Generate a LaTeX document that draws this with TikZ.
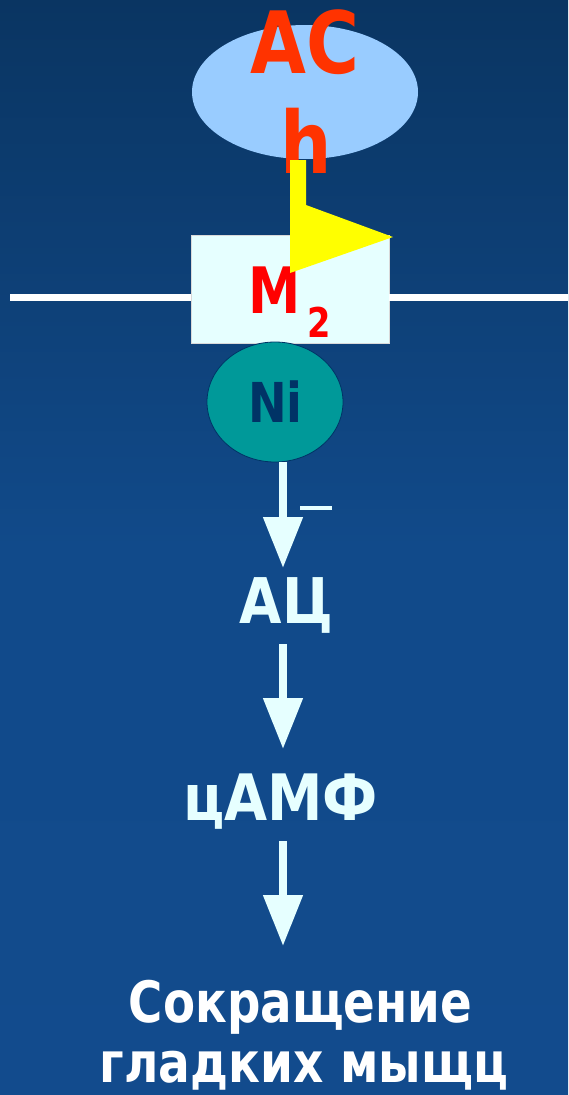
\documentclass[tikz,border=0pt]{standalone}
\usepackage{fontspec}
\setmainfont{DejaVu Sans}
\usetikzlibrary{shapes.geometric,arrows.meta}
\definecolor{bgtop}{HTML}{0A3562}
\definecolor{bgmid}{HTML}{114A8A}
\definecolor{bgbot}{HTML}{124B8D}
\definecolor{ellblue}{HTML}{99CCFF}
\definecolor{achred}{HTML}{FF3300}
\definecolor{mred}{HTML}{FF0000}
\definecolor{boxcyan}{HTML}{E6FFFF}
\definecolor{nifill}{HTML}{009999}
\definecolor{navy}{HTML}{003366}
\definecolor{flag}{HTML}{FFFF00}
\newcommand{\hsq}[2]{\scalebox{#1}[1]{#2}}
\newcommand{\fs}[1]{\fontsize{#1}{#1}\selectfont\bfseries}
\tikzset{
  lbl/.style={anchor=base, inner sep=0pt, outer sep=0pt},
  arr/.style={draw=boxcyan, line width=8pt, -{Triangle[width=38pt,length=51pt]}},
}
\begin{document}
\begin{tikzpicture}[x=1pt,y=-1pt]
\useasboundingbox (0,0) rectangle (568,1095);
\fill[top color=bgtop, bottom color=bgbot, middle color=bgmid] (0,0) rectangle (568,1095);
% acetylcholine
\node[ellipse, fill=ellblue, minimum width=226pt, minimum height=134pt, inner sep=0pt] (ach) at (305,92) {};
\node[lbl, text=achred, font=\fs{86}] (actxt) at (305,73) {\hsq{0.84}{AC}};
\node[lbl, text=achred, font=\fs{86}] (htxt) at (306,173) {\hsq{0.84}{h}};
% membrane
\node[rectangle, draw=gray!30, line width=0.8pt, fill=boxcyan, minimum width=198pt, minimum height=108pt, inner sep=0pt] (m2box) at (290,289) {};
\coordinate (memL) at (10,297);
\coordinate (memR) at (568,297);
\draw[white, line width=7pt] (memL) -- (memL -| m2box.west);
\draw[white, line width=7pt] (memR -| m2box.east) -- (memR);
\node[lbl, text=mred, font=\fs{64}] (mtxt) at (275,313) {\hsq{0.82}{M}};
\node[lbl, text=mred, font=\fs{41}] (twotxt) at (319.5,337) {\hsq{0.82}{2}};
% yellow flag
\path[fill=flag] (290,160) -- (306,160) -- (306,205) -- (393,237) -- (290,273) -- cycle;
% Ni
\node[ellipse, fill=nifill, draw=navy, line width=0.8pt, minimum width=136pt, minimum height=120pt, inner sep=0pt] (ni) at (275,402) {};
\node[lbl, text=navy, font=\fs{55}] (nitxt) at (275.5,422) {\hsq{0.84}{Ni}};
% cascade
\node[lbl, text=boxcyan, font=\fs{63}] (ac) at (286.5,623) {\hsq{0.87}{АЦ}};
\node[lbl, text=boxcyan, font=\fs{64}] (camp) at (280.5,820) {\hsq{0.87}{цАМФ}};
\node[lbl, text=white, font=\fs{57}] (res1) at (300.5,1022) {\hsq{0.82}{Сокращение}};
\node[lbl, text=white, font=\fs{56}] (res2) at (304,1082) {\hsq{0.84}{гладких мыщц}};
\node[inner sep=0pt, text=boxcyan] (minus) at (316,508) {\rule{32pt}{4.5pt}};
\coordinate (a1s) at (283,462);
\coordinate (a1e) at (283,568);
\coordinate (a2s) at (283,644);
\coordinate (a2e) at (283,749);
\coordinate (a3s) at (283,841);
\coordinate (a3e) at (283,946);
\draw[arr] (a1s) -- (a1e);
\draw[arr] (a2s) -- (a2e);
\draw[arr] (a3s) -- (a3e);
\end{tikzpicture}
\end{document}
